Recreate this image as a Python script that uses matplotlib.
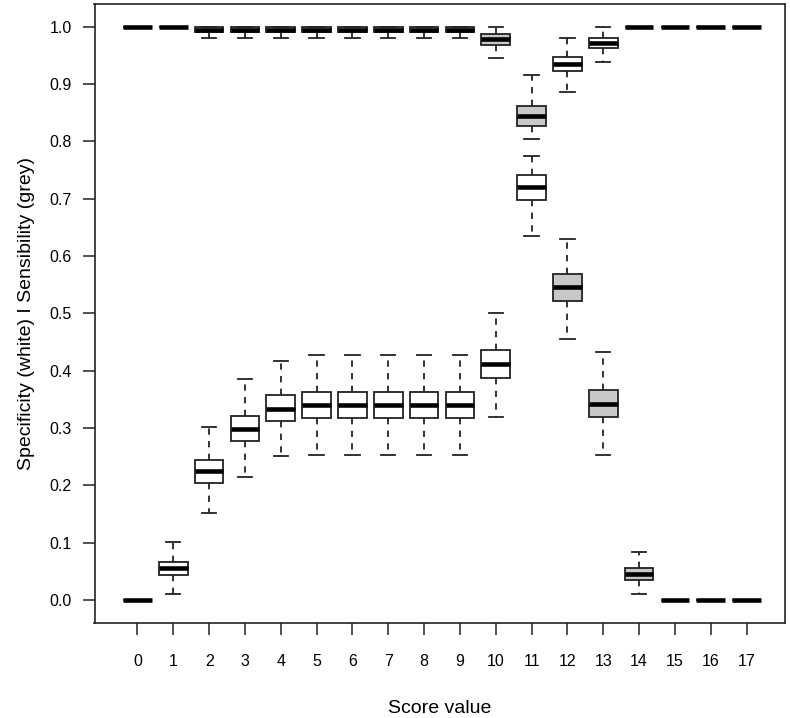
import matplotlib
matplotlib.use("Agg")
import matplotlib.pyplot as plt

plt.rcParams['font.family'] = ['Liberation Sans', 'DejaVu Sans']

scores = list(range(18))

# Specificity (white boxes): lower whisker, Q1, median, Q3, upper whisker
spec_lo  = [0.0, 0.011, 0.151, 0.2145, 0.2506, 0.2535, 0.2535, 0.2535, 0.2535, 0.2535,
            0.3187, 0.6346, 0.8866, 0.938, 1.0, 1.0, 1.0, 1.0]
spec_q1  = [0.0, 0.044, 0.2034, 0.278, 0.313, 0.318, 0.318, 0.318, 0.318, 0.318,
            0.3875, 0.6975, 0.922, 0.963, 1.0, 1.0, 1.0, 1.0]
spec_med = [0.0, 0.0565, 0.2244, 0.299, 0.334, 0.340, 0.340, 0.340, 0.340, 0.340,
            0.411, 0.7197, 0.9344, 0.972, 1.0, 1.0, 1.0, 1.0]
spec_q3  = [0.0, 0.067, 0.2436, 0.321, 0.357, 0.363, 0.363, 0.363, 0.363, 0.363,
            0.436, 0.741, 0.9465, 0.981, 1.0, 1.0, 1.0, 1.0]
spec_hi  = [0.0, 0.101, 0.302, 0.385, 0.417, 0.4266, 0.4266, 0.4266, 0.4266, 0.4266,
            0.501, 0.775, 0.9808, 1.0, 1.0, 1.0, 1.0, 1.0]

# Sensitivity (grey boxes)
sens_lo  = [1.0, 1.0, 0.980, 0.980, 0.980, 0.980, 0.980, 0.980, 0.980, 0.980,
            0.945, 0.805, 0.4545, 0.2535, 0.010, 0.0, 0.0, 0.0]
sens_q1  = [1.0, 1.0, 0.990, 0.990, 0.990, 0.990, 0.990, 0.990, 0.990, 0.990,
            0.969, 0.826, 0.5215, 0.3187, 0.035, 0.0, 0.0, 0.0]
sens_med = [1.0, 1.0, 0.995, 0.995, 0.995, 0.995, 0.995, 0.995, 0.995, 0.995,
            0.978, 0.845, 0.546, 0.3427, 0.0455, 0.0, 0.0, 0.0]
sens_q3  = [1.0, 1.0, 1.0, 1.0, 1.0, 1.0, 1.0, 1.0, 1.0, 1.0,
            0.9865, 0.862, 0.5687, 0.366, 0.0554, 0.0, 0.0, 0.0]
sens_hi  = [1.0, 1.0, 1.0, 1.0, 1.0, 1.0, 1.0, 1.0, 1.0, 1.0,
            1.0, 0.916, 0.629, 0.4324, 0.0845, 0.0, 0.0, 0.0]

y_ticks = [0.0, 0.1, 0.2, 0.3, 0.4, 0.5, 0.6, 0.7, 0.8, 0.9, 1.0]
x_label = "Score value"
y_label = "Specificity (white) I Sensibility (grey)"


def make_stats(lo, q1, med, q3, hi):
    return [dict(whislo=a, q1=b, med=c, q3=d, whishi=e, fliers=[])
            for a, b, c, d, e in zip(lo, q1, med, q3, hi)]


fig = plt.figure(figsize=(7.9, 7.18), dpi=100)
ax = fig.add_axes([94.5 / 790, 1 - 622.9 / 718, (785 - 94.5) / 790, (622.9 - 3.8) / 718])

edge = '#222222'
lw = 1.3
common = dict(
    positions=scores, widths=0.8, patch_artist=True, showfliers=False,
    medianprops=dict(color='black', linewidth=3.3, solid_capstyle='butt'),
    whiskerprops=dict(color=edge, linewidth=lw, linestyle=(0, (3.5, 3.5))),
    capprops=dict(color=edge, linewidth=lw),
    capwidths=0.4,
)

ax.bxp(make_stats(spec_lo, spec_q1, spec_med, spec_q3, spec_hi),
       boxprops=dict(facecolor='white', edgecolor=edge, linewidth=lw), **common)
ax.bxp(make_stats(sens_lo, sens_q1, sens_med, sens_q3, sens_hi),
       boxprops=dict(facecolor='#c8c8c8', edgecolor=edge, linewidth=lw), **common)

ax.set_xlim(-1.2, 18.07)
ax.set_ylim(-0.04, 1.04)
ax.set_xticks(scores)
ax.set_xticklabels([str(s) for s in scores])
ax.set_yticks(y_ticks)
ax.set_yticklabels([f"{v:.1f}" for v in y_ticks])

ax.tick_params(axis='both', direction='out', length=8.5, width=1.1, color='#222222',
               labelsize=11.5)
ax.tick_params(axis='x', pad=14)
ax.tick_params(axis='y', pad=8)
for s in ax.spines.values():
    s.set_linewidth(1.2)
    s.set_color('#222222')

ax.set_xlabel(x_label, fontsize=14, labelpad=22)
ax.set_ylabel(y_label, fontsize=14, labelpad=10)

fig.savefig("out.png", dpi=100)
